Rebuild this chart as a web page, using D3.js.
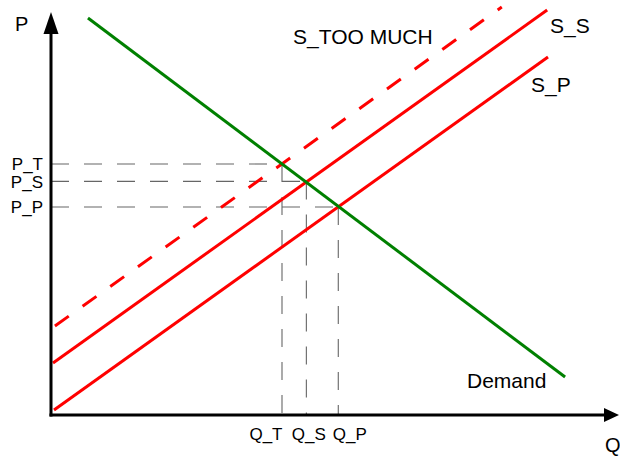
<!DOCTYPE html>
<html>
<head>
<meta charset="utf-8">
<script src="https://cdn.jsdelivr.net/npm/d3@7"></script>
<style>
  html, body { margin: 0; padding: 0; background: #fff; }
  svg { display: block; font-family: "Liberation Sans", Arial, sans-serif; }
</style>
</head>
<body>
<svg id="chart" width="620" height="456"></svg>
<script>
// ---- data (Q, P in arbitrary units 0..100) ----
const demandQ = [6.6, 91.8];
const demandP = [99.25, 9.5];
const supplySQ = [0.36, 88.6];
const supplySP = [13, 101.25];
const supplyPQ = [0.54, 88.75];
const supplyPP = [1.25, 89.5];
const tooMuchQ = [0.7, 80.5];
const tooMuchP = [22.25, 102];

const eqQ = [41.25, 45.6, 51.3];
const eqP = [62.75, 58.4, 52];
const pTickLabels = ["P_T", "P_S", "P_P"];
const qTickLabels = ["Q_T", "Q_S", "Q_P"];

const curveNames = ["S_TOO MUCH", "S_S", "S_P", "Demand"];

// ---- layout ----
const svg = d3.select("#chart");
const x = d3.scaleLinear().domain([0, 100]).range([51, 611]);
const y = d3.scaleLinear().domain([0, 100]).range([415, 15]);

const line = d3.line().x(d => x(d[0])).y(d => y(d[1]));
const zip = (a, b) => a.map((v, i) => [v, b[i]]);

// dashed guide lines
const guides = svg.append("g").attr("stroke", "#666").attr("stroke-width", 1.1)
  .attr("stroke-dasharray", "18,15").attr("fill", "none");
eqQ.forEach((q, i) => {
  guides.append("path").attr("d", line([[0, eqP[i]], [q, eqP[i]]]));
  guides.append("path").attr("d", line([[q, eqP[i]], [q, 0]]));
});

// curves
svg.append("path").attr("d", line(zip(tooMuchQ, tooMuchP)))
  .attr("stroke", "#ff0000").attr("stroke-width", 3).attr("fill", "none")
  .attr("stroke-dasharray", "17,17");
svg.append("path").attr("d", line(zip(supplySQ, supplySP)))
  .attr("stroke", "#ff0000").attr("stroke-width", 3).attr("fill", "none");
svg.append("path").attr("d", line(zip(supplyPQ, supplyPP)))
  .attr("stroke", "#ff0000").attr("stroke-width", 3).attr("fill", "none");
svg.append("path").attr("d", line(zip(demandQ, demandP)))
  .attr("stroke", "#008000").attr("stroke-width", 3).attr("fill", "none");

// axes lines with arrowheads
const x0 = x(0), y0 = y(0);
svg.append("line").attr("x1", x0).attr("y1", y0 + 1.5).attr("x2", x0).attr("y2", 30)
  .attr("stroke", "#000").attr("stroke-width", 3);
svg.append("path").attr("d", `M${x0},12 L${x0 - 7.5},34 L${x0 + 7.5},34 Z`).attr("fill", "#000");
svg.append("line").attr("x1", x0 - 1.5).attr("y1", y0).attr("x2", 606).attr("y2", y0)
  .attr("stroke", "#000").attr("stroke-width", 3);
svg.append("path").attr("d", `M619,${y0} L604,${y0 - 7} L604,${y0 + 7} Z`).attr("fill", "#000");

// tick labels via d3 axes
const yAxis = d3.axisLeft(y).tickValues(eqP).tickFormat((d, i) => pTickLabels[i])
  .tickSize(0).tickPadding(8);
const gy = svg.append("g").attr("transform", `translate(${x0},0)`).call(yAxis);
gy.select(".domain").remove();
gy.selectAll("text").attr("font-size", 17).attr("fill", "#000")
  .attr("font-family", "Liberation Sans, Arial, sans-serif").attr("dy", "0.33em");

const xAxis = d3.axisBottom(x).tickValues(eqQ).tickFormat((d, i) => qTickLabels[i])
  .tickSize(0).tickPadding(13);
const gx = svg.append("g").attr("transform", `translate(0,${y0})`).call(xAxis);
gx.select(".domain").remove();
const qAnchors = ["end", "middle", "start"];
const qShift = [0, 2, -6];
gx.selectAll("text").attr("font-size", 17).attr("fill", "#000")
  .attr("font-family", "Liberation Sans, Arial, sans-serif")
  .attr("text-anchor", (d, i) => qAnchors[i]).attr("dx", (d, i) => qShift[i]);

// axis titles
svg.append("text").attr("x", 15).attr("y", 31).attr("font-size", 20).text("P");
svg.append("text").attr("x", 605).attr("y", 452).attr("font-size", 20).text("Q");

// curve labels
svg.append("text").attr("x", 293).attr("y", 44).attr("font-size", 21).text(curveNames[0]);
svg.append("text").attr("x", 550).attr("y", 33).attr("font-size", 21).text(curveNames[1]);
svg.append("text").attr("x", 531).attr("y", 92).attr("font-size", 21).text(curveNames[2]);
svg.append("text").attr("x", 467).attr("y", 388).attr("font-size", 21).text(curveNames[3]);
</script>
</body>
</html>
